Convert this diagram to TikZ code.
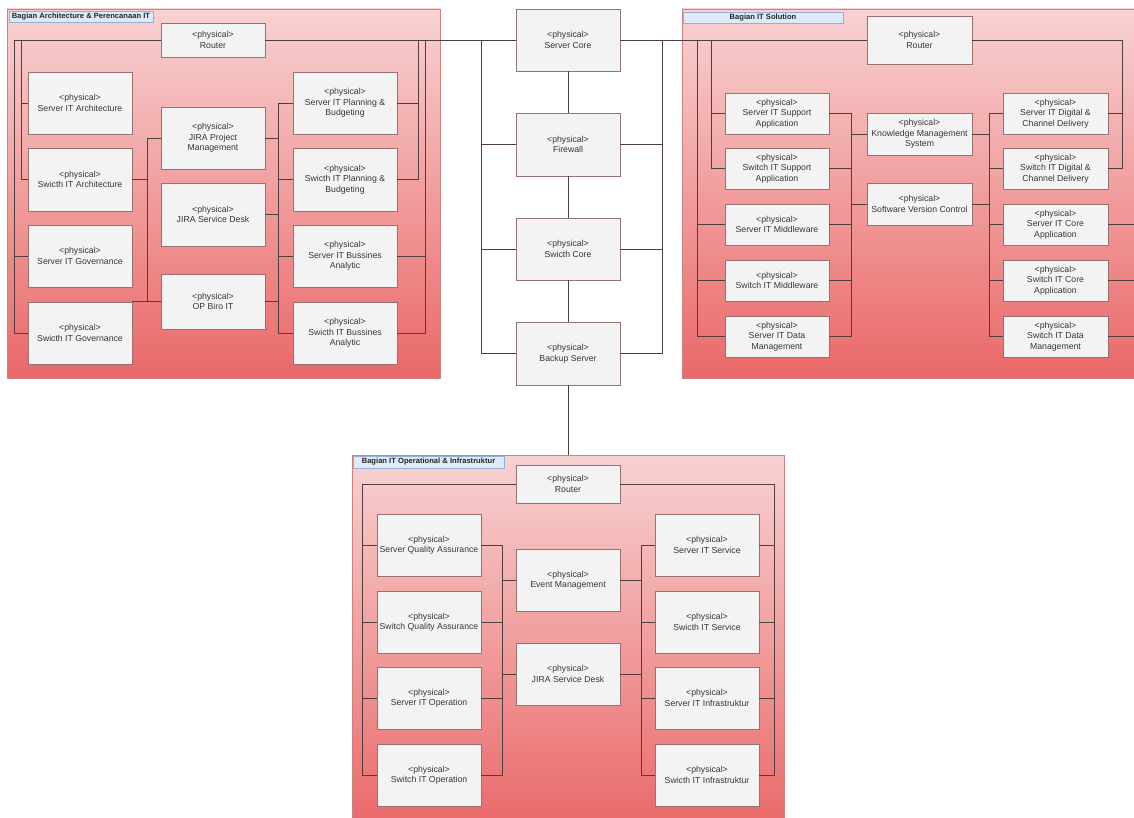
\documentclass[tikz,border=0pt]{standalone}
\usepackage{fontspec}
\setmainfont{Liberation Sans}
\definecolor{grpTop}{RGB}{248,210,210}
\definecolor{grpBot}{RGB}{234,104,104}
\definecolor{grpLine}{RGB}{205,130,130}
\definecolor{boxFill}{RGB}{243,243,243}
\definecolor{boxLine}{RGB}{150,115,115}
\definecolor{wire}{RGB}{80,62,62}
\definecolor{tabFill}{RGB}{222,234,250}
\definecolor{tabLine}{RGB}{150,175,215}
\definecolor{txt}{RGB}{55,55,55}
\tikzset{
  pbox/.style={draw=boxLine, fill=boxFill, line width=0.8pt, inner xsep=0pt, inner ysep=1pt,
    align=center, text=txt, font=\fontsize{8.7}{10.5}\selectfont},
  grp/.style={draw=grpLine, line width=0.6pt, top color=grpTop, bottom color=grpBot, inner sep=0pt},
  tabbox/.style={draw=tabLine, fill=tabFill, line width=0.6pt, inner sep=0pt,
    font=\bfseries\fontsize{7.6}{9}\selectfont, text=black!85},
  wirestyle/.style={draw=wire, line width=0.85pt},
}
\newcommand\pnode[6]{\node[pbox, minimum width={(#4)-(#2)}, minimum height={(#5)-(#3)}] (#1) at ({((#2)+(#4))/2},{((#3)+(#5))/2}) {<physical>\\#6};}
\begin{document}
\begin{tikzpicture}[x=1pt,y=-1pt]
\useasboundingbox (0,0) rectangle (1134,818);
\clip (0,0) rectangle (1134,818);
\fill[white] (0,0) rectangle (1134,818);
% groups
\node[grp, minimum width=433, minimum height=369] (gL) at (223.5,193.5) {};
\node[grp, minimum width=468, minimum height=369] (gR) at (916,193.5) {};
\node[grp, minimum width=432, minimum height=375] (gB) at (568,642.5) {};
\node[tabbox, minimum width=144, minimum height=11] (tL) at (81,16.5) {Bagian Architecture \& Perencanaan IT};
\node[tabbox, minimum width=160, minimum height=11] (tR) at (763,17.5) {Bagian IT Solution};
\node[tabbox, minimum width=151, minimum height=12] (tB) at (428.5,462) {Bagian IT Operational \& Infrastruktur};
% left group nodes
\pnode{lr}{161}{23}{265}{57}{Router}
\pnode{lsa}{28}{72}{132}{134}{Server IT Architecture}
\pnode{lswa}{28}{148}{132}{211}{Swicth IT Architecture}
\pnode{lsg}{28}{225}{132}{287}{Server IT Governance}
\pnode{lswg}{28}{302}{132}{364}{Swicth IT Governance}
\pnode{ljpm}{161}{107}{265}{169}{JIRA Project\\Management}
\pnode{ljsd}{161}{183}{265}{246}{JIRA Service Desk}
\pnode{lop}{161}{274}{265}{329}{OP Biro IT}
\pnode{lspb}{293}{72}{397}{134}{Server IT Planning \&\\Budgeting}
\pnode{lswpb}{293}{148}{397}{211}{Swicth IT Planning \&\\Budgeting}
\pnode{lsba}{293}{225}{397}{287}{Server IT Bussines\\Analytic}
\pnode{lswba}{293}{302}{397}{364}{Swicth IT Bussines\\Analytic}
% center nodes
\pnode{sc}{516}{9}{620}{71}{Server Core}
\pnode{fw}{516}{113}{620}{176}{Firewall}
\pnode{swc}{516}{218}{620}{280}{Swicth Core}
\pnode{bs}{516}{322}{620}{385}{Backup Server}
% right group nodes
\pnode{rr}{867}{16}{972}{64}{Router}
\pnode{rssa}{725}{93}{829}{134}{Server IT Support\\Application}
\pnode{rswsa}{725}{148}{829}{189}{Switch IT Support\\Application}
\pnode{rsmw}{725}{204}{829}{245}{Server IT Middleware}
\pnode{rswmw}{725}{260}{829}{301}{Switch IT Middleware}
\pnode{rsdm}{725}{316}{829}{357}{Server IT Data\\Management}
\pnode{rkms}{867}{113}{972}{155}{Knowledge Management\\System}
\pnode{rsvc}{867}{183}{972}{225}{Software Version Control}
\pnode{rsdc}{1003}{93}{1108}{134}{Server IT Digital \&\\Channel Delivery}
\pnode{rswdc}{1003}{148}{1108}{189}{Switch IT Digital \&\\Channel Delivery}
\pnode{rsca}{1003}{204}{1108}{245}{Server IT Core\\Application}
\pnode{rswca}{1003}{260}{1108}{301}{Switch IT Core\\Application}
\pnode{rswdm}{1003}{316}{1108}{357}{Switch IT Data\\Management}
% bottom group nodes
\pnode{br}{516}{465}{620}{503}{Router}
\pnode{bsqa}{377}{514}{481}{576}{Server Quality Assurance}
\pnode{bswqa}{377}{591}{481}{653}{Switch Quality Assurance}
\pnode{bsop}{377}{667}{481}{729}{Server IT Operation}
\pnode{bswop}{377}{744}{481}{806}{Switch IT Operation}
\pnode{bem}{516}{549}{620}{611}{Event Management}
\pnode{bjsd}{516}{643}{620}{705}{JIRA Service Desk}
\pnode{bssv}{655}{514}{759}{576}{Server IT Service}
\pnode{bswsv}{655}{591}{759}{653}{Swicth IT Service}
\pnode{bsinf}{655}{667}{759}{729}{Server IT Infrastruktur}
\pnode{bswinf}{655}{744}{759}{806}{Swicth IT Infrastruktur}
% junction coordinates
\coordinate (lA) at (14,40);
\coordinate (lB) at (21,40);
\coordinate (lC) at (147,0);
\coordinate (lD) at (278,0);
\coordinate (lE) at (418,40);
\coordinate (lF) at (425,40);
\coordinate (cL) at (481,40);
\coordinate (cR) at (662,40);
\coordinate (rA) at (697,40);
\coordinate (rB) at (711,40);
\coordinate (rC) at (851,0);
\coordinate (rD) at (989,0);
\coordinate (rE) at (1122,40);
\coordinate (rF) at (1136,0);
\coordinate (bA) at (362,484);
\coordinate (bB) at (774,484);
\coordinate (bC) at (502,0);
\coordinate (bD) at (641,0);
\begin{scope}[wirestyle]
% left group
\draw (lr.west) -- (lA) |- (lswg.west);
\draw (lA |- lsg.west) -- (lsg.west);
\draw (lB) |- (lswa.west);
\draw (lB |- lsa.west) -- (lsa.west);
\draw (lr.east) -- (sc.west);
\draw (lE) |- (lswpb.east);
\draw (lE |- lspb.east) -- (lspb.east);
\draw (lF) |- (lswba.east);
\draw (lF |- lsba.east) -- (lsba.east);
\draw (ljpm.west) -| (lC |- lop.west);
\draw (lswa.east) -- (lswa.east -| lC);
\draw (lswg.north east |- lop.west) -- (lop.west);
\draw (lspb.west) -| (lD |- lswba.west) -- (lswba.west);
\draw (lswpb.west) -- (lswpb.west -| lD);
\draw (lsba.west) -- (lsba.west -| lD);
\draw (ljpm.east) -- (ljpm.east -| lD);
\draw (ljsd.east) -- (ljsd.east -| lD);
\draw (lop.east) -- (lop.east -| lD);
% center
\draw (sc.south) -- (fw.north);
\draw (fw.south) -- (swc.north);
\draw (swc.south) -- (bs.north);
\draw (cL) |- (bs.west);
\draw (cL |- fw.west) -- (fw.west);
\draw (cL |- swc.west) -- (swc.west);
\draw (cR) |- (bs.east);
\draw (cR |- fw.east) -- (fw.east);
\draw (cR |- swc.east) -- (swc.east);
\draw (sc.east) -- (rr.west);
\draw (bs.south) -- (bs.south |- gB.north);
% right group
\draw (rA) |- (rsdm.west);
\draw (rA |- rsmw.west) -- (rsmw.west);
\draw (rA |- rswmw.west) -- (rswmw.west);
\draw (rB) |- (rswsa.west);
\draw (rB |- rssa.west) -- (rssa.west);
\draw (rssa.east) -| (rC |- rsdm.east) -- (rsdm.east);
\draw (rswsa.east) -- (rswsa.east -| rC);
\draw (rsmw.east) -- (rsmw.east -| rC);
\draw (rswmw.east) -- (rswmw.east -| rC);
\draw (rkms.west) -- (rkms.west -| rC);
\draw (rsvc.west) -- (rsvc.west -| rC);
\draw (rsdc.west) -| (rD |- rswdm.west) -- (rswdm.west);
\draw (rswdc.west) -- (rswdc.west -| rD);
\draw (rsca.west) -- (rsca.west -| rD);
\draw (rswca.west) -- (rswca.west -| rD);
\draw (rkms.east) -- (rkms.east -| rD);
\draw (rsvc.east) -- (rsvc.east -| rD);
\draw (rr.east) -- (rE) |- (rswdc.east);
\draw (rE |- rsdc.east) -- (rsdc.east);
\draw (rsca.east) -- (rsca.east -| rF);
\draw (rswca.east) -- (rswca.east -| rF);
\draw (rswdm.east) -- (rswdm.east -| rF);
% bottom group
\draw (br.west) -- (bA) |- (bswop.west);
\draw (bA |- bsqa.west) -- (bsqa.west);
\draw (bA |- bswqa.west) -- (bswqa.west);
\draw (bA |- bsop.west) -- (bsop.west);
\draw (br.east) -- (bB) |- (bswinf.east);
\draw (bB |- bssv.east) -- (bssv.east);
\draw (bB |- bswsv.east) -- (bswsv.east);
\draw (bB |- bsinf.east) -- (bsinf.east);
\draw (bsqa.east) -| (bC |- bswop.east) -- (bswop.east);
\draw (bswqa.east) -- (bswqa.east -| bC);
\draw (bsop.east) -- (bsop.east -| bC);
\draw (bem.west) -- (bem.west -| bC);
\draw (bjsd.west) -- (bjsd.west -| bC);
\draw (bssv.west) -| (bD |- bswinf.west) -- (bswinf.west);
\draw (bswsv.west) -- (bswsv.west -| bD);
\draw (bsinf.west) -- (bsinf.west -| bD);
\draw (bem.east) -- (bem.east -| bD);
\draw (bjsd.east) -- (bjsd.east -| bD);
\end{scope}
\end{tikzpicture}
\end{document}
